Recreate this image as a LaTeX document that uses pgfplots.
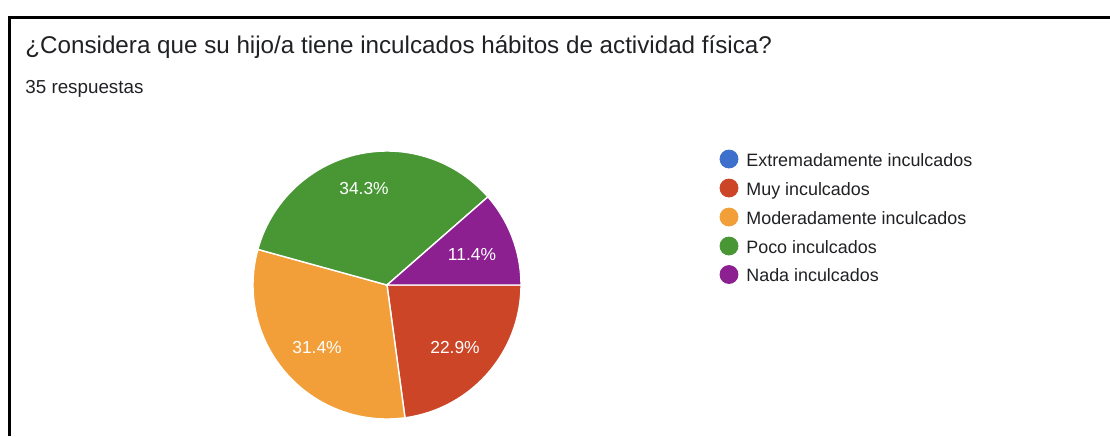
\documentclass[border=0pt]{standalone}
\usepackage{pgfplots}
\pgfplotsset{compat=1.18}
\usepackage{fontspec}
\setmainfont{Liberation Sans}
\definecolor{gblue}{RGB}{61,112,204}
\definecolor{gred}{RGB}{204,69,39}
\definecolor{gorange}{RGB}{242,159,58}
\definecolor{ggreen}{RGB}{72,150,52}
\definecolor{gpurple}{RGB}{140,32,145}
\definecolor{gtext}{RGB}{32,33,36}
% answers (35 in total)
\def\nExtrem{0}
\def\nMuy{8}
\def\nModer{11}
\def\nPoco{12}
\def\nNada{4}
\pgfmathsetmacro\nTot{\nExtrem+\nMuy+\nModer+\nPoco+\nNada}
\pgfmathsetmacro\aA{360*\nExtrem/\nTot}
\pgfmathsetmacro\aB{\aA+360*\nMuy/\nTot}
\pgfmathsetmacro\aC{\aB+360*\nModer/\nTot}
\pgfmathsetmacro\aD{\aC+360*\nPoco/\nTot}
\pgfmathsetmacro\aE{\aD+360*\nNada/\nTot}
\def\cx{387}
\def\cy{285}
\def\rr{134}
\begin{document}
\begin{tikzpicture}
\begin{axis}[name=ax,
  scale only axis, width=555pt, height=218pt,
  xmin=0, xmax=1110, ymin=0, ymax=436, y dir=reverse,
  hide axis, clip=false,
  axis background/.style={fill=white}]
% frame
\addplot[black, line width=1.5pt] coordinates {(9.5,436) (9.5,17.5) (1110,17.5)};
% slices
\addplot[fill=gred, draw=white, line width=0.7pt, domain=\aA:\aB, samples=60, variable=\t]
  ({\cx+\rr*cos(\t)},{\cy+\rr*sin(\t)}) -- (axis cs:\cx,\cy) -- cycle;
\addplot[fill=gorange, draw=white, line width=0.7pt, domain=\aB:\aC, samples=60, variable=\t]
  ({\cx+\rr*cos(\t)},{\cy+\rr*sin(\t)}) -- (axis cs:\cx,\cy) -- cycle;
\addplot[fill=ggreen, draw=white, line width=0.7pt, domain=\aC:\aD, samples=60, variable=\t]
  ({\cx+\rr*cos(\t)},{\cy+\rr*sin(\t)}) -- (axis cs:\cx,\cy) -- cycle;
\addplot[fill=gpurple, draw=white, line width=0.7pt, domain=\aD:\aE, samples=60, variable=\t]
  ({\cx+\rr*cos(\t)},{\cy+\rr*sin(\t)}) -- (axis cs:\cx,\cy) -- cycle;
% slice labels
\node[white, font=\fontsize{8.7}{10}\selectfont] at (axis cs:364,189) {34.3\%};
\node[white, font=\fontsize{8.7}{10}\selectfont] at (axis cs:472,255) {11.4\%};
\node[white, font=\fontsize{8.7}{10}\selectfont] at (axis cs:455,347) {22.9\%};
\node[white, font=\fontsize{8.7}{10}\selectfont] at (axis cs:317,347) {31.4\%};
% titles
\node[anchor=base west, text=gtext, inner sep=0pt, font=\fontsize{12.1}{14}\selectfont] at (axis cs:25,53.3) {¿Considera que su hijo/a tiene inculcados hábitos de actividad física?};
\node[anchor=base west, text=gtext, inner sep=0pt, font=\fontsize{9.4}{11}\selectfont] at (axis cs:25,93.3) {35 respuestas};
% legend
\addplot[only marks, mark=*, mark size=4.5pt, color=gblue] coordinates {(729,159)};
\addplot[only marks, mark=*, mark size=4.5pt, color=gred] coordinates {(729,188)};
\addplot[only marks, mark=*, mark size=4.5pt, color=gorange] coordinates {(729,217)};
\addplot[only marks, mark=*, mark size=4.5pt, color=ggreen] coordinates {(729,246)};
\addplot[only marks, mark=*, mark size=4.5pt, color=gpurple] coordinates {(729,274.5)};
\node[anchor=base west, text=gtext, inner sep=0pt, font=\fontsize{8.95}{11}\selectfont] at (axis cs:746,166) {Extremadamente inculcados};
\node[anchor=base west, text=gtext, inner sep=0pt, font=\fontsize{8.95}{11}\selectfont] at (axis cs:746,195) {Muy inculcados};
\node[anchor=base west, text=gtext, inner sep=0pt, font=\fontsize{8.95}{11}\selectfont] at (axis cs:746,224) {Moderadamente inculcados};
\node[anchor=base west, text=gtext, inner sep=0pt, font=\fontsize{8.95}{11}\selectfont] at (axis cs:746,253) {Poco inculcados};
\node[anchor=base west, text=gtext, inner sep=0pt, font=\fontsize{8.95}{11}\selectfont] at (axis cs:746,281.5) {Nada inculcados};
\end{axis}
\pgfresetboundingbox
\useasboundingbox (ax.south west) rectangle (ax.north east);
\end{tikzpicture}
\end{document}
